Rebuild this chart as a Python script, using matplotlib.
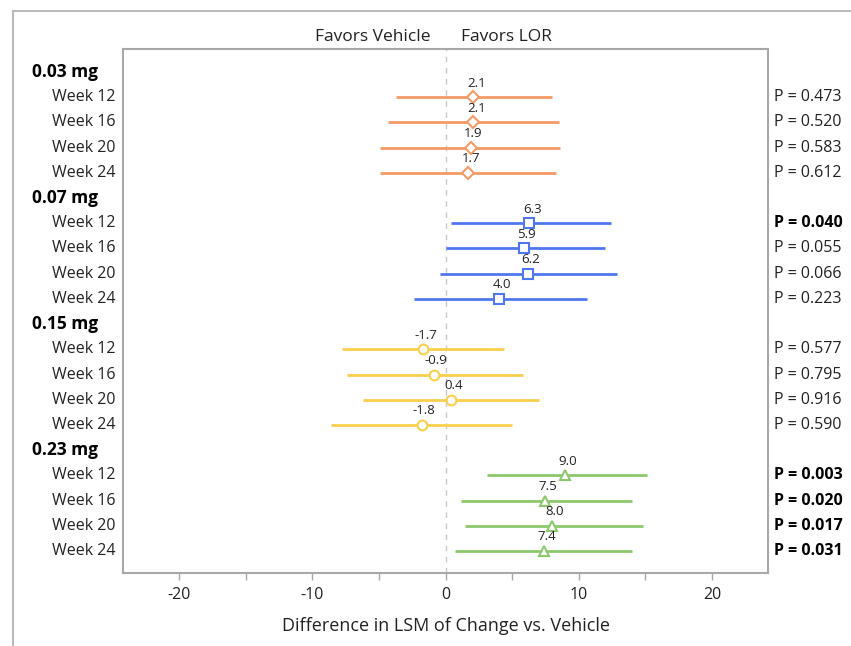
import matplotlib.pyplot as plt
from matplotlib.lines import Line2D

plt.rcParams['font.family'] = ['Open Sans', 'DejaVu Sans']
plt.rcParams['axes.unicode_minus'] = False

doses = ["0.03 mg", "0.07 mg", "0.15 mg", "0.23 mg"]
weeks = ["Week 12", "Week 16", "Week 20", "Week 24"]

estimates = [
    [2.1, 2.1, 1.9, 1.7],
    [6.3, 5.9, 6.2, 4.0],
    [-1.7, -0.9, 0.4, -1.8],
    [9.0, 7.5, 8.0, 7.4],
]
ci_low = [
    [-3.7, -4.3, -4.9, -4.9],
    [0.4, 0.0, -0.4, -2.4],
    [-7.8, -7.4, -6.2, -8.6],
    [3.1, 1.2, 1.5, 0.7],
]
ci_high = [
    [8.0, 8.5, 8.6, 8.3],
    [12.4, 12.0, 12.9, 10.6],
    [4.4, 5.8, 7.0, 5.0],
    [15.1, 14.0, 14.8, 14.0],
]
p_values = [
    ["0.473", "0.520", "0.583", "0.612"],
    ["0.040", "0.055", "0.066", "0.223"],
    ["0.577", "0.795", "0.916", "0.590"],
    ["0.003", "0.020", "0.017", "0.031"],
]

colors = ["#F39A66", "#4F78EE", "#FBCF4C", "#8CC96C"]
markers = ["D", "s", "o", "^"]
msizes = [6, 7, 7, 7]

fig = plt.figure(figsize=(8.51, 6.46), dpi=100)
ax = fig.add_axes([123 / 851, 1 - 573 / 646, 645 / 851, 524 / 646])

frame_col = "#A8A8A8"
txt_col = "#222222"

row = 0
for g, dose in enumerate(doses):
    ax.text(-0.141, row, dose, transform=ax.get_yaxis_transform(), ha="left", va="center",
            fontsize=12.5, fontweight="bold", color="black")
    row += 1
    for w, week in enumerate(weeks):
        est = estimates[g][w]
        ax.plot([ci_low[g][w], ci_high[g][w]], [row, row], color=colors[g], lw=2, solid_capstyle="butt", zorder=2)
        ax.plot(est, row, marker=markers[g], ms=msizes[g], mfc="white", mec=colors[g], mew=1.5, zorder=3)
        ax.text(est + 0.2, row - 0.3, f"{est:.1f}", ha="center", va="bottom", fontsize=9.5, color=txt_col)
        ax.text(-0.012, row, week, transform=ax.get_yaxis_transform(), ha="right", va="center",
                fontsize=11.5, color=txt_col)
        bold = float(p_values[g][w]) < 0.05
        ax.text(1.01, row, "P = " + p_values[g][w], transform=ax.get_yaxis_transform(), ha="left",
                va="center", fontsize=11.5, color="black" if bold else txt_col,
                fontweight="bold" if bold else "normal")
        row += 1

ax.axvline(0, color="#C8C8C8", lw=1, ls=(0, (4, 4)), zorder=1)

ax.set_xlim(-24.2, 24.2)
ax.set_ylim(19.87, -0.91)
ax.set_yticks([])
ax.set_xticks([-20, -10, 0, 10, 20])
ax.set_xticks([-15, -5, 5, 15], minor=True)
ax.tick_params(axis="x", which="both", color=frame_col, length=5, width=1, labelsize=11.5,
               labelcolor=txt_col, pad=5)
for s in ["left", "bottom", "right", "top"]:
    ax.spines[s].set_color(frame_col)
    ax.spines[s].set_linewidth(1.5)
ax.set_xlabel("Difference in LSM of Change vs. Vehicle", fontsize=13, color=txt_col, labelpad=10)

ax.text(-1.1, 1.008, "Favors Vehicle", transform=ax.get_xaxis_transform(), ha="right", va="bottom",
        fontsize=12.5, color=txt_col)
ax.text(1.2, 1.008, "Favors LOR", transform=ax.get_xaxis_transform(), ha="left", va="bottom",
        fontsize=12.5, color=txt_col)

# outer frame lines (top and left only)
fig.add_artist(Line2D([13 / 851, 1], [1 - 11 / 646, 1 - 11 / 646], color="#BBBBBB", lw=1.5))
fig.add_artist(Line2D([13 / 851, 13 / 851], [0, 1 - 11 / 646], color="#BBBBBB", lw=1.5))

fig.savefig("out.png", dpi=100)
